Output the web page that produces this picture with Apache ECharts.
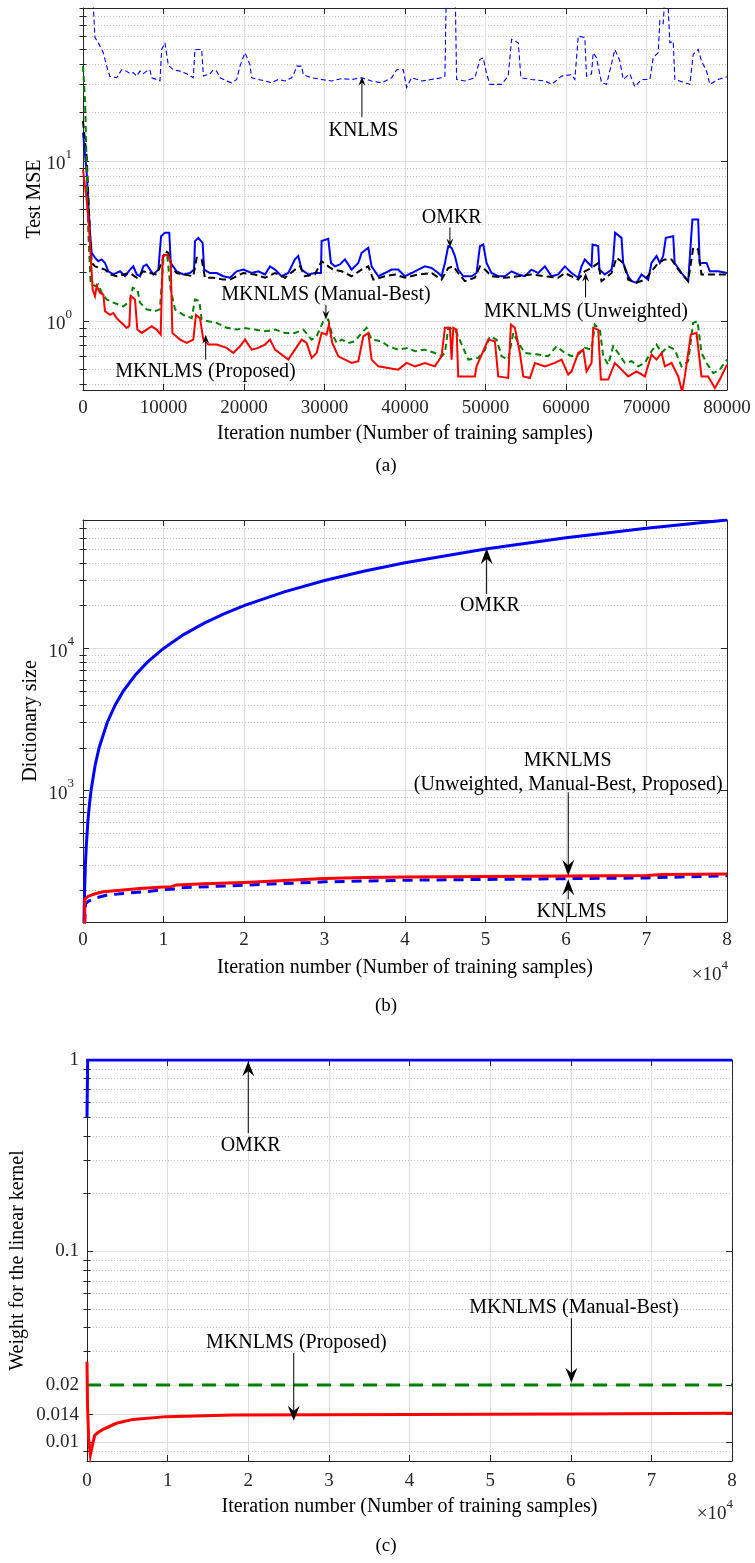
<!DOCTYPE html>
<html>
<head>
<meta charset="utf-8">
<script src="https://cdn.jsdelivr.net/npm/echarts@6/dist/echarts.min.js"></script>
<style>
  html, body { margin: 0; padding: 0; background: #ffffff; }
  #main { width: 755px; height: 1563px; }
</style>
</head>
<body>
<div id="main"></div>
<script>
// ---------------- (a) Test MSE versus iteration ----------------
const mseKnlms = [[0,300],[1280,92],[1490,58.8],[1900,54.6],[2320,49.6],[2520,47.3],[2940,39],[3350,33.6],[4180,33],[4800,37],[5420,36.3],[5840,34.9],[6250,35.5],[6660,33.8],[7080,36.3],[7490,35],[7910,36.3],[8320,37],[8530,33],[9150,32.2],[9560,31.5],[9770,49.6],[10180,54.6],[10600,39.5],[11220,37],[12050,36.3],[12880,35],[13700,33],[13910,49.6],[14740,49.6],[14950,33.8],[15770,34.9],[16190,37],[16600,36.3],[17020,33],[17840,31.5],[18460,30.7],[19090,32.2],[19500,39],[20120,47.3],[20330,46.2],[20740,39.9],[20950,33],[21780,32.2],[22600,31.5],[23430,30.7],[24260,32.2],[25090,31.5],[25920,33],[26330,36.3],[26540,39],[27160,39],[27370,34.5],[28400,33],[29640,32.2],[30880,31.5],[32130,32.6],[33370,32.2],[34610,33],[35850,31.5],[37090,30.7],[38340,33],[38960,37],[39790,37],[40200,28.7],[40820,33],[42060,31.5],[43300,32.2],[44540,33],[44960,33.8],[45170,150],[46200,150],[46410,32.2],[47440,31.5],[48680,33],[49310,43],[49720,44],[50130,35],[50550,30],[52000,30],[52820,33.8],[53240,57.3],[54070,54.6],[54400,33],[55720,32.2],[57380,31.5],[58210,30],[59450,33.8],[60690,34.5],[61100,32.2],[61520,60.1],[62340,58.8],[62550,33.8],[63170,34.9],[63380,47.3],[63790,44],[64000,39],[64410,30.7],[65040,30],[65660,40.5],[66070,49.6],[66690,42],[67110,32.2],[67930,34.9],[68550,29],[69380,32.2],[70420,32.2],[70830,44],[71450,47.3],[71660,75],[72070,72],[72490,150],[72690,150],[72900,54.6],[73320,55.9],[73520,32.2],[74760,30.7],[75390,30],[75800,46.2],[76420,49.6],[76830,42],[77460,36.3],[77870,30],[78900,32.2],[80000,33.5]];

const mseOmkr = [[0,15],[460,8.4],[870,3.55],[1080,2.66],[1490,2.48],[1900,2.36],[2320,2.42],[2730,2.3],[3150,2.04],[3770,1.95],[4600,2.04],[5220,1.9],[5840,2.09],[6250,2.19],[6670,1.95],[7080,1.9],[7490,2.19],[7910,2.25],[8320,2.09],[8740,1.95],[9360,2.09],[9700,3.38],[10180,3.55],[10720,3.55],[10900,2.3],[11630,2.04],[12460,1.95],[13290,1.99],[13800,2.09],[13910,3.15],[14320,3.3],[14860,3.07],[15050,2.09],[15770,1.99],[16600,1.99],[17430,1.9],[18260,1.86],[19090,2.04],[19910,2.09],[20950,1.99],[21780,2.04],[22600,1.95],[23230,2.19],[23850,2.09],[24670,1.9],[25500,1.99],[26330,2.42],[26740,2.54],[27160,2.09],[27990,1.95],[28810,1.99],[29560,1.99],[29640,3.15],[30470,3.25],[30800,2.3],[31300,2.19],[31920,2.25],[32540,2.42],[33370,2.09],[34200,2.3],[34610,2.66],[35440,2.86],[35850,2.19],[36680,1.9],[37510,1.99],[38340,2.09],[39160,2.09],[39990,1.9],[40820,1.99],[41650,2.09],[42470,2.19],[43300,2.14],[44130,1.99],[44540,1.9],[44960,2.3],[45370,2.93],[45790,2.86],[46200,2.54],[46610,2.09],[47240,1.9],[48270,1.9],[48890,1.99],[49310,2.93],[49720,3.0],[50130,2.3],[50750,1.99],[51580,1.9],[52410,1.9],[53240,2.04],[54070,1.95],[54890,1.9],[55720,2.09],[56550,1.99],[57380,2.19],[58210,1.9],[59030,1.95],[59860,2.19],[60690,1.99],[61520,1.86],[61930,2.19],[62340,2.42],[62760,2.3],[63170,2.19],[63300,3.0],[64000,2.93],[64150,2.09],[64830,1.95],[65660,2.09],[65860,2.42],[66100,3.55],[66900,3.3],[67100,2.3],[67730,1.9],[68140,1.77],[68760,1.73],[69380,1.95],[70210,1.81],[70620,2.3],[71250,2.54],[71660,2.3],[72070,2.54],[72400,3.3],[73320,3.38],[73500,2.3],[74350,1.99],[75180,1.77],[75700,4.3],[76420,4.3],[76600,2.3],[77460,2.3],[77870,2.04],[78900,2.04],[80000,1.99]];

const mseUnweighted = [[0,17.7],[455,10.7],[870,3.4],[1080,2.3],[1490,2.19],[2110,2.14],[2730,2.09],[3350,1.95],[4180,1.9],[5010,1.95],[5840,1.99],[6670,1.86],[7490,2.04],[8320,1.99],[9150,1.95],[9770,2.3],[10180,2.73],[10600,2.66],[11010,2.19],[11630,1.99],[12460,1.95],[13700,1.9],[14120,2.48],[14740,2.42],[15150,1.86],[16190,1.86],[17430,1.81],[18260,1.81],[19090,1.9],[19910,1.99],[21360,1.95],[22600,1.86],[23850,1.99],[25090,1.86],[26330,2.09],[26950,2.19],[27570,1.9],[28810,1.95],[29640,2.36],[30470,2.19],[31090,2.09],[32130,2.04],[33370,1.9],[34610,2.09],[35440,2.19],[36060,1.81],[37510,1.9],[38750,1.95],[39990,1.86],[41650,1.95],[43300,1.99],[44540,1.81],[45370,2.14],[46000,2.19],[46610,1.99],[47440,1.77],[48680,1.86],[49310,2.19],[49930,2.09],[50750,1.9],[52410,1.86],[54070,1.9],[55720,1.95],[57380,1.9],[59030,1.86],[59860,1.99],[61520,1.81],[62340,2.04],[63170,2.14],[64000,2.3],[64410,1.77],[65660,1.99],[66280,2.48],[67110,2.3],[67730,1.81],[68760,1.73],[69800,1.81],[70620,2.04],[71450,2.3],[72280,2.42],[73110,2.42],[73940,2.09],[75180,1.77],[75800,2.86],[76420,2.79],[76830,1.95],[78080,1.95],[80000,1.95]];

const mseManualBest = [[0,39],[250,24.2],[455,9.25],[660,3.55],[950,1.73],[1490,1.65],[1900,1.69],[2320,1.5],[2940,1.36],[3770,1.3],[5010,1.23],[5840,1.33],[6170,1.61],[6750,1.57],[7080,1.3],[7910,1.18],[8940,1.15],[9560,1.18],[9980,2.42],[10470,2.54],[10890,1.57],[11430,1.18],[12460,1.09],[13500,1.04],[13910,1.36],[14450,1.33],[14740,1.02],[15570,0.995],[16600,0.971],[17840,0.905],[19090,0.882],[19910,0.905],[21360,0.882],[22600,0.861],[23850,0.882],[25090,0.841],[26330,0.841],[27370,0.882],[28400,0.764],[29020,0.8],[29850,0.995],[30470,1.02],[30880,0.841],[31510,0.728],[32130,0.764],[32950,0.728],[33780,0.746],[34610,0.841],[35230,0.905],[35850,0.764],[37090,0.746],[37920,0.694],[39160,0.661],[40410,0.678],[41230,0.646],[42470,0.661],[43720,0.63],[44540,0.601],[44960,0.63],[45370,0.905],[46200,0.882],[46610,0.8],[47860,0.573],[49100,0.587],[49930,0.661],[50550,0.8],[51380,0.764],[52000,0.601],[52820,0.573],[53450,0.841],[54070,0.728],[54890,0.63],[56550,0.616],[57790,0.601],[58830,0.694],[59860,0.63],[60690,0.601],[61520,0.616],[62340,0.678],[63170,0.661],[63590,0.948],[64210,0.882],[64620,0.601],[65240,0.533],[65860,0.694],[66480,0.63],[67310,0.546],[68140,0.56],[68970,0.52],[69800,0.546],[70620,0.646],[71250,0.711],[71870,0.63],[72690,0.694],[73520,0.661],[74350,0.52],[75180,0.56],[75800,0.971],[76340,0.995],[76830,0.63],[77460,0.546],[78280,0.472],[79110,0.496],[80000,0.573]];

const mseProposed = [[0,8.83],[455,5.73],[790,3.55],[1200,1.57],[1490,1.43],[1700,1.65],[2110,1.5],[2530,1.46],[2730,1.15],[3350,1.09],[3770,1.12],[4180,1.04],[4800,0.971],[5420,0.905],[5750,0.926],[5920,1.43],[6460,1.36],[6750,0.882],[7290,0.841],[7910,0.882],[8530,0.926],[9150,0.882],[9650,0.821],[9900,2.54],[10470,2.6],[10890,2.36],[11100,0.841],[12050,0.764],[12880,0.728],[13700,0.764],[14030,1.09],[14530,1.04],[14950,0.764],[15570,0.711],[16600,0.711],[17840,0.678],[18670,0.63],[19500,0.694],[20120,0.764],[20950,0.661],[21780,0.678],[22600,0.711],[23230,0.764],[23850,0.661],[24670,0.616],[25500,0.573],[26330,0.661],[27160,0.764],[27780,0.728],[28400,0.587],[29020,0.63],[29640,0.841],[30260,0.821],[30550,0.948],[30970,0.728],[31710,0.601],[32540,0.573],[33370,0.546],[34200,0.56],[34820,0.8],[35440,0.841],[35850,0.573],[36680,0.52],[37920,0.508],[39160,0.496],[40200,0.546],[41230,0.52],[42470,0.546],[43720,0.52],[44540,0.601],[44960,0.905],[45580,0.905],[45790,0.573],[46000,0.905],[46410,0.882],[46610,0.45],[47860,0.45],[48680,0.45],[48890,0.52],[50340,0.764],[51170,0.746],[51580,0.45],[52820,0.44],[53160,0.948],[53650,0.905],[54270,0.63],[54690,0.45],[55520,0.44],[56140,0.546],[57380,0.52],[58620,0.546],[59450,0.573],[60280,0.462],[60690,0.484],[61520,0.63],[62140,0.661],[62550,0.484],[63170,0.546],[63380,0.905],[64000,0.882],[64330,0.43],[65240,0.43],[66070,0.546],[66900,0.496],[67730,0.45],[68760,0.484],[69800,0.45],[70620,0.616],[71250,0.573],[71870,0.63],[72280,0.52],[73110,0.546],[73940,0.45],[74430,0.36],[74760,0.45],[75510,0.821],[76210,0.841],[76830,0.45],[77660,0.45],[78490,0.381],[79110,0.43],[80000,0.533]];

const mseTicks = [1, 10];
const mseMinorTicks = [0.4,0.5,0.6,0.7,0.8,0.9,2,3,4,5,6,7,8,9,20,30,40,50,60,70,80,90];

// ---------------- (b) Dictionary size ----------------
const dictOmkr = [[118,118],[150,150],[200,200],[300,300],[400,400],[600,600],[800,800],[1000,1000],[1500,1500],[2000,2000],[3000,3000],[4000,4000],[5000,5000],[6500,6500],[8000,8000],[10000,10000],[12500,12500],[15000,15000],[17500,17500],[20000,20000],[25000,25000],[30000,30000],[35000,35000],[40000,40000],[50000,50000],[60000,60000],[70000,70000],[80000,80000]];
const dictKnlms = [[200,115],[320,160],[700,167],[1500,175],[3000,184],[5000,189],[8000,195],[10000,201],[11500,203],[12000,207],[20000,216],[30000,228],[40000,234],[50000,237],[60000,240],[70000,243],[80000,252]];
const dictMknlms = [[200,115],[240,172],[600,180],[1500,188],[2500,194],[5000,200],[7000,205],[9500,209],[11000,211],[11600,217],[15000,221],[20000,226],[25000,233],[30000,241],[35000,245],[40000,247],[50000,249],[60000,251],[70000,253],[72000,257],[80000,259]];

const dictTicks = [1000, 10000];
const dictMinorTicks = [200,300,400,500,600,700,800,900,2000,3000,4000,5000,6000,7000,8000,9000,20000,30000,40000,50000,60000,70000];

// ---------------- (c) Weight for the linear kernel ----------------
const weightOmkr = [[0,0.5],[80,1],[80000,1]];
const weightManualBest = [[0,0.02],[80000,0.02]];
const weightProposed = [[0,0.0264],[60,0.016],[200,0.0105],[420,0.0086],[700,0.0098],[955,0.0109],[1400,0.0113],[1990,0.0117],[3640,0.0126],[5710,0.0132],[9850,0.01365],[18100,0.0139],[40000,0.014],[60000,0.0141],[80000,0.0142]];

const weightTicks = [0.01, 0.014, 0.02, 0.1, 1];
const weightTickLabels = ['0.01', '0.014', '0.02', '0.1', '1'];
const weightMinorTicks = [0.009,0.03,0.04,0.05,0.06,0.07,0.08,0.09,0.2,0.3,0.4,0.5,0.6,0.7,0.8,0.9];

const iterMax = 80000;
const iterStep = 10000;

// ---------------- styling / layout ----------------
const FONT = '"Liberation Serif", "Times New Roman", Times, serif';
const INK = '#262626';
const GRID_MAJOR = '#dedede';
const GRID_MINOR = '#c2c2c2';
const TICK_FS = 19;
const LABEL_FS = 20;

const panels = [
  { left: 83, top: 8,    width: 644, height: 382 },
  { left: 83, top: 520,  width: 644, height: 402 },
  { left: 87, top: 1060, width: 645, height: 401 }
];

function xAxesFor(gi, fmt, margin) {
  const line = { show: true, onZero: false, lineStyle: { color: INK, width: 1 } };
  const tick = { show: true, inside: true, length: 6, lineStyle: { color: INK, width: 1 } };
  return [
    { type: 'value', gridIndex: gi, position: 'bottom', min: 0, max: iterMax, interval: iterStep,
      axisLine: line, axisTick: tick,
      axisLabel: { show: true, formatter: fmt, margin: margin, fontSize: TICK_FS, fontFamily: FONT, color: INK },
      splitLine: { show: true, lineStyle: { color: GRID_MAJOR, width: 1 } } },
    { type: 'value', gridIndex: gi, position: 'top', min: 0, max: iterMax, interval: iterStep,
      axisLine: line, axisTick: tick, axisLabel: { show: false }, splitLine: { show: false } }
  ];
}

function logAxesFor(gi, min, max, major, minor, fmt, rich, margin) {
  const common = { type: 'log', logBase: 10, gridIndex: gi, min: min, max: max };
  const line = { show: true, onZero: false, lineStyle: { color: INK, width: 1 } };
  const majTick = { show: true, inside: true, length: 6, customValues: major, lineStyle: { color: INK, width: 1 } };
  const minTick = { show: true, inside: true, length: 3.5, customValues: minor, lineStyle: { color: INK, width: 1 } };
  return [
    Object.assign({}, common, { position: 'left', axisLine: line, axisTick: majTick,
      axisLabel: { show: true, customValues: major, formatter: fmt, rich: rich, margin: margin,
                   fontSize: TICK_FS, fontFamily: FONT, color: INK },
      splitLine: { show: true, lineStyle: { color: GRID_MAJOR, width: 1 } } }),
    Object.assign({}, common, { position: 'left', axisLine: { show: false }, axisTick: minTick,
      axisLabel: { show: false },
      splitLine: { show: true, lineStyle: { color: GRID_MINOR, width: 1, type: [1, 2] } } }),
    Object.assign({}, common, { position: 'right', axisLine: line, axisTick: majTick,
      axisLabel: { show: false }, splitLine: { show: false } }),
    Object.assign({}, common, { position: 'right', axisLine: { show: false }, axisTick: minTick,
      axisLabel: { show: false }, splitLine: { show: false } })
  ];
}

const powRich = {
  b: { fontSize: TICK_FS, fontFamily: FONT, color: INK, lineHeight: 26, verticalAlign: 'bottom' },
  s: { fontSize: 13, fontFamily: FONT, color: INK, lineHeight: 13, verticalAlign: 'top' }
};
const powLabel = v => '{b|10}{s|' + Math.round(Math.log10(v)) + '}';
const weightLabel = v => {
  const i = weightTicks.findIndex(t => Math.abs(t - v) / t < 1e-6);
  return i >= 0 ? weightTickLabels[i] : '';
};

function lineSeries(name, xi, yi, data, color, width, dash, z) {
  return { name: name, type: 'line', xAxisIndex: xi, yAxisIndex: yi, data: data,
           symbol: 'none', showSymbol: false, clip: true, z: z, silent: true,
           lineStyle: { color: color, width: width, type: dash || 'solid', cap: 'butt', join: 'miter' } };
}

const option = {
  animation: false,
  backgroundColor: '#ffffff',
  grid: panels.map(p => Object.assign({ outerBoundsMode: 'none', containLabel: false }, p)),
  xAxis: [].concat(
    xAxesFor(0, v => String(Math.round(v)), 9),
    xAxesFor(1, v => String(Math.round(v / 10000)), 9),
    xAxesFor(2, v => String(Math.round(v / 10000)), 11)
  ),
  yAxis: [].concat(
    logAxesFor(0, 0.37, 90, mseTicks, mseMinorTicks, powLabel, powRich, 11),
    logAxesFor(1, 119, 80000, dictTicks, dictMinorTicks, powLabel, powRich, 9),
    logAxesFor(2, 0.008, 1, weightTicks, weightMinorTicks, weightLabel, undefined, 8)
  ),
  series: [
    lineSeries('KNLMS', 0, 0, mseKnlms, '#0000ff', 1.1, [5, 3], 2),
    lineSeries('OMKR', 0, 0, mseOmkr, '#0000ff', 2, 'solid', 3),
    lineSeries('MKNLMS (Unweighted)', 0, 0, mseUnweighted, '#000000', 2, [7, 4], 4),
    lineSeries('MKNLMS (Manual-Best)', 0, 0, mseManualBest, '#008000', 2, [6, 4], 5),
    lineSeries('MKNLMS (Proposed)', 0, 0, mseProposed, '#ff0000', 2, 'solid', 6),

    lineSeries('OMKR', 2, 4, dictOmkr, '#0000ff', 3, 'solid', 3),
    lineSeries('KNLMS', 2, 4, dictKnlms, '#0000ff', 3, [10, 7], 4),
    lineSeries('MKNLMS', 2, 4, dictMknlms, '#ff0000', 3, 'solid', 5),

    lineSeries('OMKR', 4, 8, weightOmkr, '#0000ff', 3, 'solid', 3),
    lineSeries('MKNLMS (Manual-Best)', 4, 8, weightManualBest, '#008000', 3, [14, 9], 4),
    lineSeries('MKNLMS (Proposed)', 4, 8, weightProposed, '#ff0000', 3, 'solid', 5)
  ]
};

const chart = echarts.init(document.getElementById('main'), null, { renderer: 'canvas', width: 755, height: 1563 });
chart.setOption(option);

// ---------------- annotations, titles and captions ----------------
// Arrows and texts are placed in data coordinates of each panel.
const notes = [
  { panel: 0, text: 'KNLMS', at: [34840, 15.5], arrow: [34650, 18.7, 33.5], head: [9, 7] },
  { panel: 0, text: 'OMKR', at: [45800, 4.42], arrow: [45580, 3.83, 2.87], head: [9, 7] },
  { panel: 0, text: 'MKNLMS (Manual-Best)', at: [30180, 1.46], arrow: [30180, 1.26, 1.02], head: [9, 7] },
  { panel: 0, text: 'MKNLMS (Unweighted)', at: [62470, 1.14], arrow: [62430, 1.40, 2.0], head: [9, 7] },
  { panel: 0, text: 'MKNLMS (Proposed)', at: [15215, 0.482], arrow: [15240, 0.573, 0.82], head: [9, 7] },

  { panel: 1, text: 'OMKR', at: [50550, 19860], arrow: [50140, 24100, 50600], head: [16, 12] },
  { panel: 1, text: 'MKNLMS', at: [60200, 1616] },
  { panel: 1, text: '(Unweighted, Manual-Best, Proposed)', at: [60280, 1107], arrow: [60280, 973, 252], head: [16, 12] },
  { panel: 1, text: 'KNLMS', at: [60690, 139.6], arrow: [60280, 171.6, 238], head: [16, 12] },

  { panel: 2, text: 'OMKR', at: [20300, 0.357], arrow: [20000, 0.415, 0.985], head: [15, 12] },
  { panel: 2, text: 'MKNLMS (Proposed)', at: [25970, 0.0334], arrow: [25640, 0.0294, 0.013], head: [15, 12] },
  { panel: 2, text: 'MKNLMS (Manual-Best)', at: [60390, 0.0507], arrow: [60080, 0.0446, 0.0205], head: [15, 12] }
];

const xTitle = 'Iteration number (Number of training samples)';
const yTitles = ['Test MSE', 'Dictionary size', 'Weight for the linear kernel'];
const captions = ['(a)', '(b)', '(c)'];

function toPx(panel, pt) {
  return chart.convertToPixel({ xAxisIndex: panel * 2, yAxisIndex: panel * 4 }, pt);
}

function textEl(x, y, text, size, rotation, align) {
  return { type: 'text', x: x, y: y, rotation: rotation || 0, z: 100, silent: true,
           style: { text: text, fontSize: size, fontFamily: FONT, fill: '#000000',
                    textAlign: align || 'center', align: align || 'center',
                    textVerticalAlign: 'middle', verticalAlign: 'middle' } };
}

const els = [];
notes.forEach(n => {
  const p = toPx(n.panel, n.at);
  els.push(textEl(p[0], p[1], n.text, LABEL_FS));
  if (n.arrow) {
    const a = toPx(n.panel, [n.arrow[0], n.arrow[1]]);
    const b = toPx(n.panel, [n.arrow[0], n.arrow[2]]);
    const dx = b[0] - a[0], dy = b[1] - a[1], len = Math.hypot(dx, dy);
    const ux = dx / len, uy = dy / len, nx = -uy, ny = ux;
    const L = n.head[0], W = n.head[1] / 2;
    const back = [b[0] - ux * L, b[1] - uy * L];
    const notch = [b[0] - ux * L * 0.65, b[1] - uy * L * 0.65];
    els.push({ type: 'line', z: 100, silent: true,
               shape: { x1: a[0], y1: a[1], x2: notch[0], y2: notch[1] },
               style: { stroke: '#000000', lineWidth: 1 } });
    els.push({ type: 'polygon', z: 100, silent: true,
               shape: { points: [b, [back[0] + nx * W, back[1] + ny * W], notch, [back[0] - nx * W, back[1] - ny * W]] },
               style: { fill: '#000000' } });
  }
});

const yTitleX = [35, 31, 18];
const xTitleGap = [44, 46, 46];
const captionY = [466, 1006, 1546];
panels.forEach((p, i) => {
  els.push(textEl(p.left + p.width / 2, p.top + p.height + xTitleGap[i], xTitle, LABEL_FS));
  els.push(textEl(yTitleX[i], p.top + p.height / 2, yTitles[i], LABEL_FS, Math.PI / 2));
  els.push(textEl(386, captionY[i], captions[i], 19));
});

// "x10^4" multiplier under the right end of panels (b) and (c)
[1, 2].forEach(i => {
  const p = panels[i];
  els.push({ type: 'text', x: p.left + p.width + 1, y: p.top + p.height + 50, z: 100, silent: true,
             style: { text: '{a|\u00d710}{e|4}', textAlign: 'right', align: 'right',
                      textVerticalAlign: 'middle', verticalAlign: 'middle',
                      rich: { a: { fontSize: 19, fontFamily: FONT, fill: INK, color: INK, lineHeight: 26, verticalAlign: 'bottom' },
                              e: { fontSize: 13, fontFamily: FONT, fill: INK, color: INK, lineHeight: 13, verticalAlign: 'top' } } } });
});

chart.setOption({ graphic: { elements: els } });
</script>
</body>
</html>
